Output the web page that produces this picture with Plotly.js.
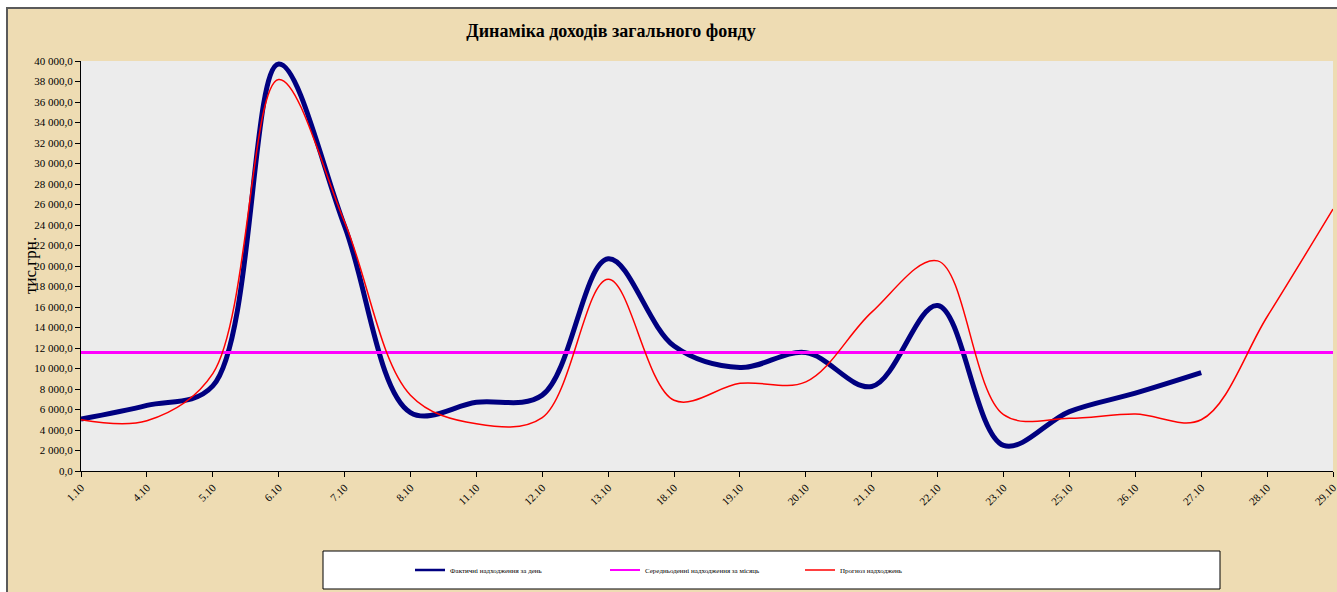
<!DOCTYPE html>
<html>
<head>
<meta charset="utf-8">
<script src="https://cdn.plot.ly/plotly-3.0.1.min.js"></script>
<style>
  html, body { margin:0; padding:0; background:#ffffff; width:1337px; height:592px; overflow:hidden; }
  #frame { position:absolute; left:6px; top:7px; width:1340px; height:600px;
           border-left:2px solid #5a5a5a; border-top:2px solid #5a5a5a;
           background:#eedcb3; }
  #chart { position:absolute; left:0; top:0; width:1337px; height:592px; }
</style>
</head>
<body>
<div id="frame"></div>
<div id="chart"></div>
<script>
const categories = ["1.10","4.10","5.10","6.10","7.10","8.10","11.10","12.10","13.10","18.10",
                    "19.10","20.10","21.10","22.10","23.10","25.10","26.10","27.10","28.10","29.10"];

// Фактичні надходження за день (тис. грн.)
const actualCats = ["1.10","4.10","5.10","6.10","7.10","8.10","11.10","12.10","13.10","18.10",
                    "19.10","20.10","21.10","22.10","23.10","25.10","26.10","27.10"];
const actual = [5070, 6400, 8300, 39700, 23900, 5700, 6700, 7400, 20700, 12200,
                10100, 11550, 8250, 16150, 2500, 5800, 7600, 9600];

// Середньоденні надходження за місяць
const average = [11550, 11550, 11550, 11550, 11550, 11550, 11550, 11550, 11550, 11550,
                 11550, 11550, 11550, 11550, 11550, 11550, 11550, 11550, 11550, 11550];

// Прогноз надходжень
const forecast = [5000, 4900, 9500, 38200, 24300, 7400, 4600, 5200, 18700, 6900,
                  8550, 8700, 15500, 20500, 5500, 5150, 5550, 5000, 15050, 25550];

const seriesNames = ["Фактичні надходження за день", "Середньоденні надходження за місяць", "Прогноз надходжень"];
const seriesColors = ["#000080", "#ff00ff", "#ff0000"];

const serif = "'Liberation Serif', 'Times New Roman', serif";

const traces = [
  { x: actualCats, y: actual, name: seriesNames[0], type: "scatter", mode: "lines", showlegend: false,
    line: { color: seriesColors[0], width: 5, shape: "spline", smoothing: 1 } },
  { x: categories, y: average, name: seriesNames[1], type: "scatter", mode: "lines", showlegend: false,
    line: { color: seriesColors[1], width: 3 } },
  { x: categories, y: forecast, name: seriesNames[2], type: "scatter", mode: "lines", showlegend: false,
    line: { color: seriesColors[2], width: 1.5, shape: "spline", smoothing: 1 } },
  // legend entries (thin lines as in the original legend)
  { x: [null], y: [null], name: seriesNames[0], type: "scatter", mode: "lines",
    line: { color: seriesColors[0], width: 2.5 } },
  { x: [null], y: [null], name: seriesNames[1], type: "scatter", mode: "lines",
    line: { color: seriesColors[1], width: 2 } },
  { x: [null], y: [null], name: seriesNames[2], type: "scatter", mode: "lines",
    line: { color: seriesColors[2], width: 1.5 } }
];

const layout = {
  width: 1337, height: 592,
  margin: { l: 81, r: 4, t: 61, b: 121 },
  paper_bgcolor: "rgba(0,0,0,0)",
  plot_bgcolor: "#ececec",
  separators: ", ",
  font: { family: serif, color: "#000" },
  title: {
    text: "<b>Динаміка доходів загального фонду</b>",
    font: { family: serif, size: 18, color: "#000" },
    xref: "container", yref: "container",
    x: 611 / 1337, xanchor: "center",
    y: 1 - 31 / 592, yanchor: "middle"
  },
  xaxis: {
    type: "category",
    categoryorder: "array", categoryarray: categories,
    range: [0, 19],
    tickangle: -45,
    tickfont: { family: serif, size: 11, color: "#000" },
    ticks: "outside", ticklen: 5, tickcolor: "#000",
    showline: true, linecolor: "#000", linewidth: 1,
    showgrid: false, zeroline: false
  },
  yaxis: {
    range: [0, 40000],
    dtick: 2000, tick0: 0,
    tickformat: ",.1f",
    tickfont: { family: serif, size: 11, color: "#000" },
    ticks: "outside", ticklen: 5, tickcolor: "#000",
    showline: true, linecolor: "#000", linewidth: 1,
    showgrid: false, zeroline: false
  },
  annotations: [
    { text: "тис.грн.", xref: "paper", yref: "paper",
      x: (30 - 81) / 1252, y: 0.5, xanchor: "center", yanchor: "middle",
      textangle: -90, showarrow: false,
      font: { family: serif, size: 17, color: "#000" } }
  ],
  shapes: [
    { type: "rect", xref: "paper", yref: "paper",
      x0: (323 - 81) / 1252, x1: (1220 - 81) / 1252,
      y0: (471 - 589) / 410, y1: (471 - 551) / 410,
      fillcolor: "#ffffff", line: { color: "#000", width: 1 }, layer: "below" }
  ],
  showlegend: true,
  legend: {
    orientation: "h",
    x: (410 - 81) / 1252, xanchor: "left",
    y: (471 - 570) / 410, yanchor: "middle",
    bgcolor: "rgba(0,0,0,0)",
    font: { family: serif, size: 7, color: "#000" },
    entrywidth: 150, entrywidthmode: "pixels",
    itemwidth: 30
  }
};

Plotly.newPlot("chart", traces, layout, { displayModeBar: false, staticPlot: true });
</script>
</body>
</html>
